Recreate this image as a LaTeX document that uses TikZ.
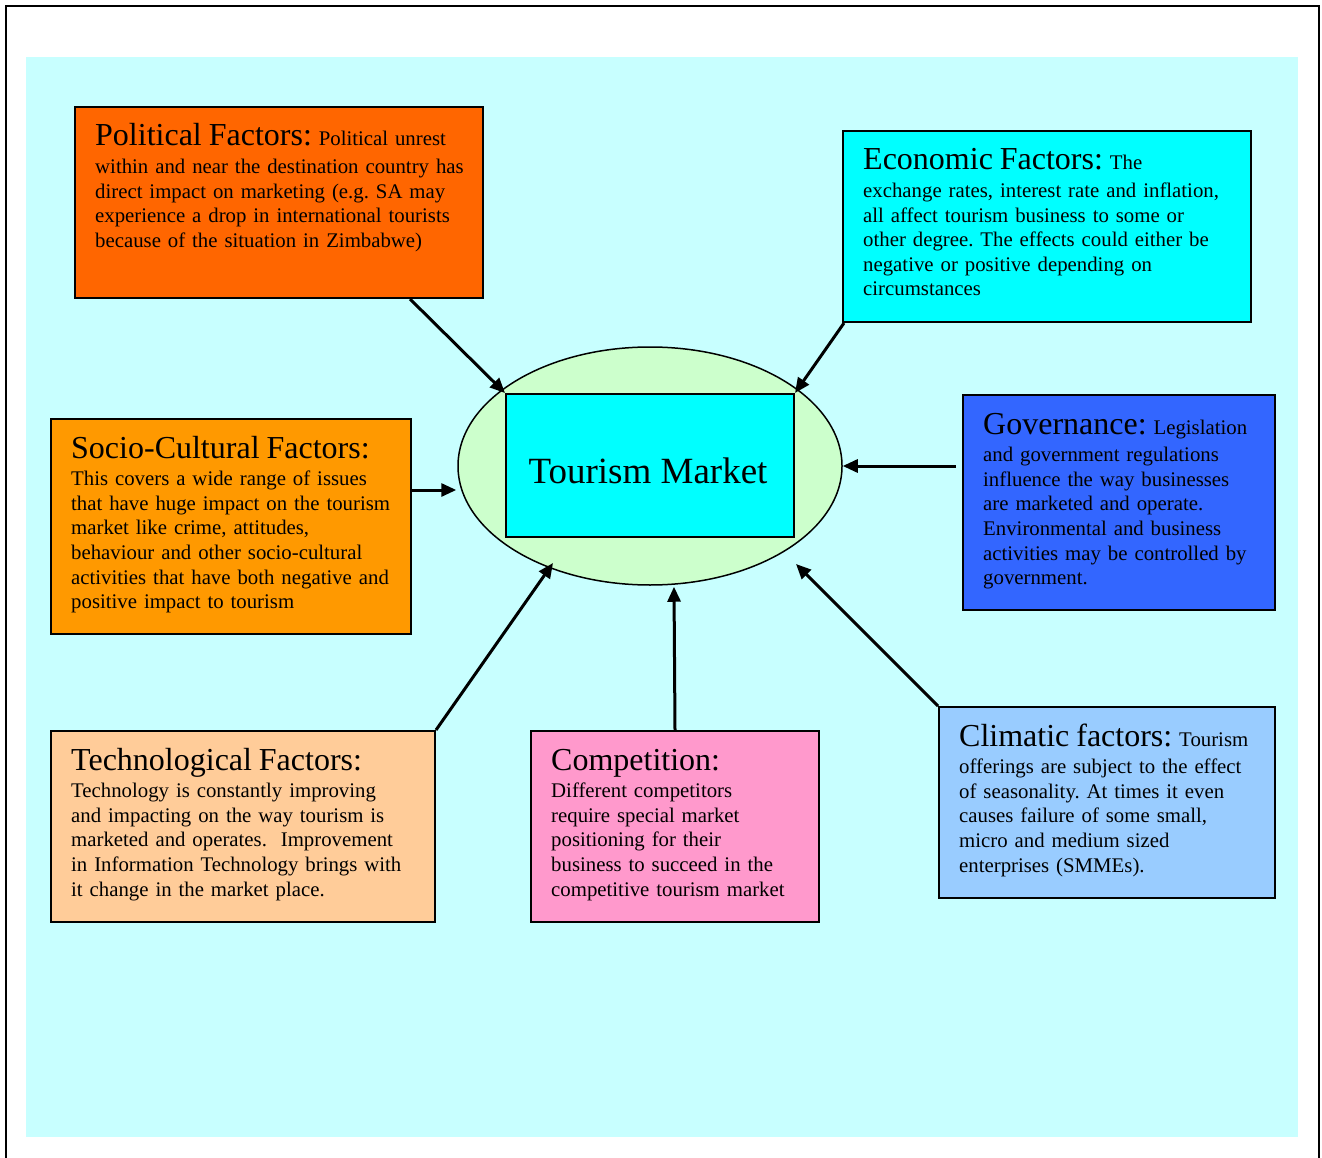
\documentclass[tikz,border=0pt]{standalone}
\usepackage{fontspec}
\setmainfont{Liberation Serif}
\usetikzlibrary{arrows.meta,calc,shapes.geometric}
\definecolor{bgc}{HTML}{C8FFFF}
\definecolor{polc}{HTML}{FF6600}
\definecolor{ecoc}{HTML}{00FFFF}
\definecolor{socc}{HTML}{FF9900}
\definecolor{govc}{HTML}{3366FF}
\definecolor{tecc}{HTML}{FFCC99}
\definecolor{comc}{HTML}{FF99CC}
\definecolor{clic}{HTML}{99CCFF}
\definecolor{ellc}{HTML}{CCFFCC}
\newcommand\ttl[1]{{\fontsize{32}{24.6}\selectfont #1}}
\frenchspacing
\begin{document}
\begin{tikzpicture}[x=1pt,y=-1pt,
  factor/.style={draw=black, line width=2pt, rectangle, inner sep=0pt, anchor=north west},
  ftxt/.style={anchor=base west, align=left, inner sep=0pt, text width=420pt,
    font=\fontsize{20.8}{24.6}\selectfont},
  arr/.style={line width=3pt, -{Triangle[length=15pt,width=13pt]}}]
\useasboundingbox (0,0) rectangle (1322,1158);
\draw[line width=2pt] (6,1165) -- (6,6) -- (1319,6) -- (1319,1165);
\fill[bgc] (26,57) rectangle (1298,1137);

% factor boxes
\node[factor, fill=polc, minimum width=408pt, minimum height=191pt] (pol) at (74,106) {};
\node[factor, fill=ecoc, minimum width=408pt, minimum height=191pt] (eco) at (842,130) {};
\node[factor, fill=socc, minimum width=360pt, minimum height=215pt] (soc) at (50,418) {};
\node[factor, fill=govc, minimum width=312pt, minimum height=215pt] (gov) at (962,394) {};
\node[factor, fill=tecc, minimum width=384pt, minimum height=191pt] (tec) at (50,730) {};
\node[factor, fill=comc, minimum width=288pt, minimum height=191pt] (com) at (530,730) {};
\node[factor, fill=clic, minimum width=336pt, minimum height=191pt] (cli) at (938,706) {};

% texts
\node[ftxt] (polt) at ($(pol.north west)+(21,40)$) {\ttl{Political Factors:} Political unrest\\[3pt]
within and near the destination country has\\
direct impact on marketing (e.g. SA may\\
experience a drop in international tourists\\
because of the situation in Zimbabwe)};
\node[ftxt] (ecot) at ($(eco.north west)+(21,40)$) {\ttl{Economic Factors:} The\\[3pt]
exchange rates, interest rate and inflation,\\
all affect tourism business to some or\\
other degree. The effects could either be\\
negative or positive depending on\\
circumstances};
\node[ftxt] (soct) at ($(soc.north west)+(21,40)$) {\ttl{Socio-Cultural Factors:}\\[3pt]
This covers a wide range of issues\\
that have huge impact on the tourism\\
market like crime, attitudes,\\
behaviour and other socio-cultural\\
activities that have both negative and\\
positive impact to tourism};
\node[ftxt] (govt) at ($(gov.north west)+(21,40)$) {\ttl{Governance:} Legislation\\[3pt]
and government regulations\\
influence the way businesses\\
are marketed and operate.\\
Environmental and business\\
activities may be controlled by\\
government.};
\node[ftxt] (tect) at ($(tec.north west)+(21,40)$) {\ttl{Technological Factors:}\\[3pt]
Technology is constantly improving\\
and impacting on the way tourism is\\
marketed and operates.\ \ Improvement\\
in Information Technology brings with\\
it change in the market place.};
\node[ftxt] (comt) at ($(com.north west)+(21,40)$) {\ttl{Competition:}\\[3pt]
Different competitors\\
require special market\\
positioning for their\\
business to succeed in the\\
competitive tourism market};
\node[ftxt] (clit) at ($(cli.north west)+(21,40)$) {\ttl{Climatic factors:} Tourism\\[3pt]
offerings are subject to the effect\\
of seasonality. At times it even\\
causes failure of some small,\\
micro and medium sized\\
enterprises (SMMEs).};

% centre
\node[ellipse, draw=black, line width=1.5pt, fill=ellc, minimum width=384pt, minimum height=238pt, inner sep=0pt] (ell) at (650,466) {};
\node[draw=black, line width=2pt, fill=ecoc, minimum width=288pt, minimum height=143pt, inner sep=0pt] (tm) at (650,465.5) {};
\node[anchor=base, inner sep=0pt, font=\fontsize{37}{40}\selectfont] (tmt) at (648,483) {Tourism Market};

% arrows
\draw[arr] ($(pol.south west)+(336,0)$) -- (tm.north west);
\draw[arr] ($(eco.south west)+(2,0)$) -- (tm.north east);
\draw[arr] ($(soc.north east)+(0,72)$) -- ($(ell.west)+(-1,24)$);
\draw[arr] ($(gov.north west)+(-6,72)$) -- (ell.east);
\draw[arr] (tec.north east) -- ($(ell.center)+(-97,97)$);
\draw[arr] (com.north) -- ($(ell.south)+(24,1)$);
\draw[arr] (cli.north west) -- ($(ell.center)+(146,98)$);
\end{tikzpicture}
\end{document}
